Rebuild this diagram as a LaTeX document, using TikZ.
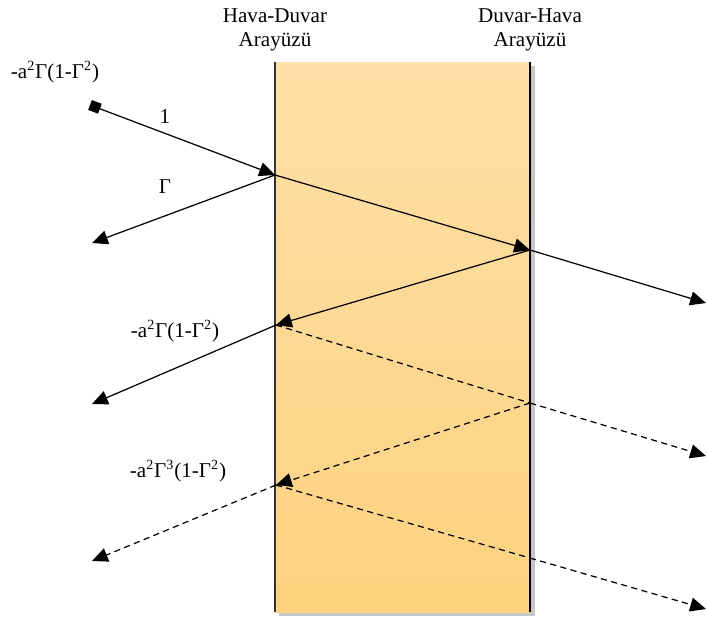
\documentclass[tikz,border=0pt]{standalone}
\usepackage{fontspec}
\setmainfont{Liberation Serif}
\usetikzlibrary{arrows.meta,positioning}

\definecolor{walltop}{HTML}{FDE0A8}
\definecolor{wallbot}{HTML}{FED27E}

\tikzset{
  ray/.style={line width=0.7pt,-{Triangle[length=9pt,width=8pt]}},
  raynotip/.style={line width=0.7pt},
  dashray/.style={dash pattern=on 3.5pt off 2.5pt},
  lbl/.style={font=\fontsize{12}{14}\selectfont,inner sep=1pt}
}

\begin{document}
\begin{tikzpicture}[x=0.02cm,y=-0.02cm]
    \useasboundingbox (0,0) rectangle (707,619);

    % wall with shadow
    \fill[black!22] (279,66) rectangle (535,616);
    \shade[top color=walltop,bottom color=wallbot] (275,62) rectangle (530,612);
    \draw[line width=0.8pt,black!80] (275,62) -- (275,612);
    \draw[line width=0.8pt] (530,62) -- (530,612);

    % interface titles
    \node[lbl,align=center] (hd) at (275,30) {Hava-Duvar\\Arayüzü};
    \node[lbl,align=center] (dh) at (530,30) {Duvar-Hava\\Arayüzü};

    % hit points on the two interfaces
    \coordinate (src) at (90,105);
    \coordinate (a1) at (275,175);
    \coordinate (b1) at (530,250);
    \coordinate (a2) at (276,325);
    \coordinate (b2) at (530,403);
    \coordinate (a3) at (276,485);
    \coordinate (b3) at (530,558);

    % free ends
    \coordinate (l1) at (92,243);
    \coordinate (l2) at (92,404);
    \coordinate (l3) at (92,561);
    \coordinate (r1) at (706,303);
    \coordinate (r2) at (706,456);
    \coordinate (r3) at (706,609);

    % solid rays
    \draw[ray,{Square[length=6pt,width=6pt]}-{Triangle[length=9pt,width=8pt]}] (src) -- (a1);
    \draw[ray] (a1) -- (l1);
    \draw[ray] (a1) -- (b1);
    \draw[ray] (b1) -- (r1);
    \draw[ray] (b1) -- (a2);
    \draw[ray] (a2) -- (l2);

    % dashed rays
    \draw[raynotip,dashray] (a2) -- (b2);
    \draw[ray,dashray] (b2) -- (r2);
    \draw[ray,dashray] (b2) -- (a3);
    \draw[ray,dashray] (a3) -- (l3);
    \draw[raynotip,dashray] (a3) -- (b3);
    \draw[ray,dashray] (b3) -- (r3);

    % amplitude labels
    \node[lbl] (t0) at (55,72) {-a\textsuperscript{2}Γ(1-Γ\textsuperscript{2})};
    \node[lbl] (t1) at (165,117) {1};
    \node[lbl] (t2) at (165,187) {Γ};
    \node[lbl] (t3) at (175,331) {-a\textsuperscript{2}Γ(1-Γ\textsuperscript{2})};
    \node[lbl] (t4) at (178,471) {-a\textsuperscript{2}Γ\textsuperscript{3}(1-Γ\textsuperscript{2})};
\end{tikzpicture}
\end{document}
